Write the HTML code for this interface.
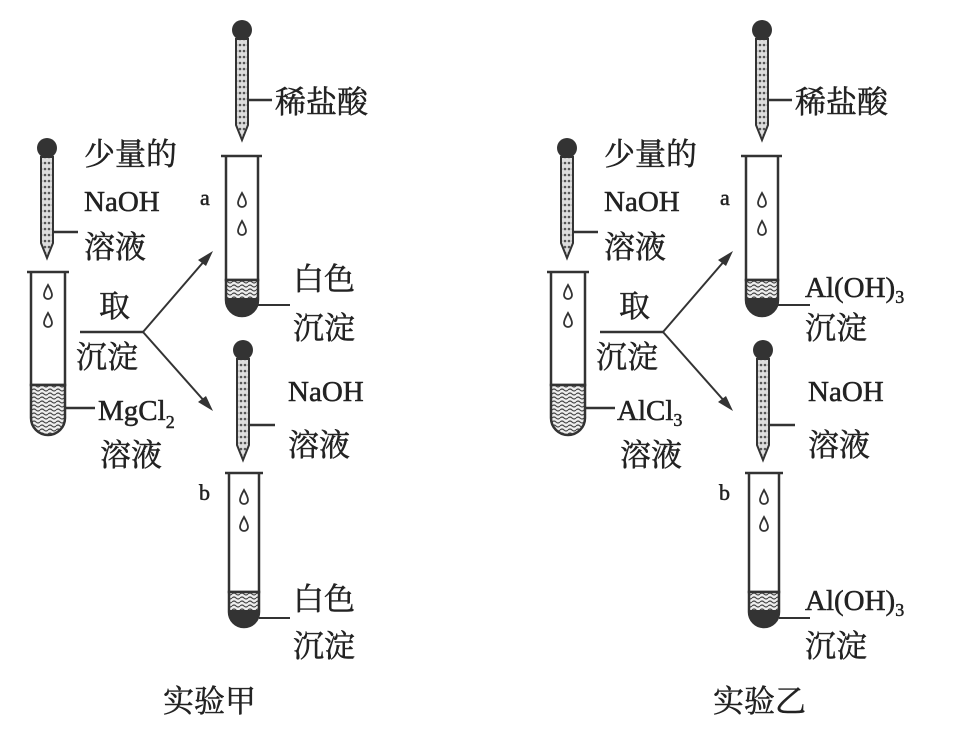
<!DOCTYPE html>
<html><head><meta charset="utf-8">
<style>
html,body{margin:0;padding:0;background:#fff;}
svg{display:block;}
text{font-family:"Liberation Serif","Noto Serif CJK SC","Noto Sans CJK SC",serif;fill:#222;stroke:#222;stroke-width:0.5;}
</style></head><body>
<svg width="958" height="734" viewBox="0 0 958 734" xmlns="http://www.w3.org/2000/svg">
<defs>
<pattern id="hat" width="8" height="8" patternUnits="userSpaceOnUse">
<rect width="8" height="8" fill="#eee"/>
<path d="M0 2 Q2 0 4 2 T8 2 M0 6 Q2 4 4 6 T8 6" stroke="#444" stroke-width="1.2" fill="none"/>
</pattern>
<pattern id="stem" width="4" height="6" patternUnits="userSpaceOnUse">
<rect width="4" height="6" fill="#ddd"/>
<circle cx="2" cy="3" r="1.3" fill="#555"/>
</pattern>
<g id="drop">
<path d="M0 -7 Q4 0 4 3 A4 4 0 0 1 -4 3 Q-4 0 0 -7Z" fill="none" stroke="#333" stroke-width="1.8"/>
</g>
<g id="dropper">
<circle cx="0" cy="0" r="10" fill="#333"/>
<path d="M-6 9 L-6 95 L0 110 L6 95 L6 9 Z" fill="url(#stem)" stroke="#333" stroke-width="2"/>
</g>
<g id="exp">
<use href="#dropper" x="242" y="30"/>
<line x1="248" y1="100" x2="272" y2="100" stroke="#333" stroke-width="2.5"/>
<text x="275" y="113" font-size="31">稀盐酸</text>
<line x1="221" y1="156" x2="262" y2="156" stroke="#333" stroke-width="2.5"/>
<path d="M226 156 V280 H258 V156" fill="none" stroke="#333" stroke-width="2.5"/>
<path d="M226 280 H258 V300 A16 16 0 0 1 226 300 Z" fill="url(#hat)" stroke="#333" stroke-width="2.5"/>
<path d="M226 298 H258 V300 A16 16 0 0 1 226 300 Z" fill="#333"/>
<use href="#drop" x="242" y="200"/>
<use href="#drop" x="242" y="228"/>
<text x="200" y="205" font-size="22">a</text>
<line x1="258" y1="305" x2="290" y2="305" stroke="#333" stroke-width="2"/>
<use href="#dropper" x="47" y="148"/>
<line x1="53" y1="232" x2="78" y2="232" stroke="#333" stroke-width="2.5"/>
<text x="84" y="165" font-size="31">少量的</text>
<text x="84" y="211" font-size="29">NaOH</text>
<text x="84" y="258" font-size="31">溶液</text>
<line x1="27" y1="272" x2="69" y2="272" stroke="#333" stroke-width="2.5"/>
<path d="M31 272 V385 H65 V272" fill="none" stroke="#333" stroke-width="2.5"/>
<path d="M31 385 H65 V418 A17 17 0 0 1 31 418 Z" fill="url(#hat)" stroke="#333" stroke-width="2.5"/>
<use href="#drop" x="48" y="292"/>
<use href="#drop" x="48" y="320"/>
<line x1="65" y1="408" x2="95" y2="408" stroke="#333" stroke-width="2.5"/>
<text x="99" y="317" font-size="31">取</text>
<line x1="80" y1="332" x2="143" y2="332" stroke="#333" stroke-width="2.5"/>
<text x="76" y="368" font-size="31">沉淀</text>
<line x1="143" y1="332" x2="206" y2="259" stroke="#333" stroke-width="2"/>
<path d="M213 251 L198 260 L206 266 Z" fill="#333"/>
<line x1="143" y1="332" x2="206" y2="403" stroke="#333" stroke-width="2"/>
<path d="M213 411 L198 402 L206 396 Z" fill="#333"/>
<text x="100" y="466" font-size="31">溶液</text>
<use href="#dropper" x="243" y="350"/>
<line x1="249" y1="425" x2="275" y2="425" stroke="#333" stroke-width="2.5"/>
<text x="288" y="401" font-size="29">NaOH</text>
<text x="288" y="456" font-size="31">溶液</text>
<line x1="225" y1="473" x2="263" y2="473" stroke="#333" stroke-width="2.5"/>
<path d="M229 473 V592 H259 V473" fill="none" stroke="#333" stroke-width="2.5"/>
<path d="M229 592 H259 V612 A15 15 0 0 1 229 612 Z" fill="url(#hat)" stroke="#333" stroke-width="2.5"/>
<path d="M229 610 H259 V612 A15 15 0 0 1 229 612 Z" fill="#333"/>
<use href="#drop" x="244" y="497"/>
<use href="#drop" x="244" y="524"/>
<text x="199" y="500" font-size="22">b</text>
<line x1="259" y1="618" x2="290" y2="618" stroke="#333" stroke-width="2"/>
</g>
</defs>

<use href="#exp"/>
<use href="#exp" x="520"/>

<text x="293" y="290" font-size="31">白色</text>
<text x="293" y="339" font-size="31">沉淀</text>
<text x="98" y="420" font-size="29">MgCl<tspan font-size="18" dy="8">2</tspan></text>
<text x="293" y="610" font-size="31">白色</text>
<text x="293" y="657" font-size="31">沉淀</text>
<text x="163" y="712" font-size="31">实验甲</text>

<text x="805" y="297" font-size="29">Al(OH)<tspan font-size="18" dy="6">3</tspan></text>
<text x="805" y="339" font-size="31">沉淀</text>
<text x="617" y="420" font-size="29">AlCl<tspan font-size="18" dy="6">3</tspan></text>
<text x="805" y="610" font-size="29">Al(OH)<tspan font-size="18" dy="6">3</tspan></text>
<text x="805" y="657" font-size="31">沉淀</text>
<text x="713" y="712" font-size="31">实验乙</text>
</svg>
</body></html>
